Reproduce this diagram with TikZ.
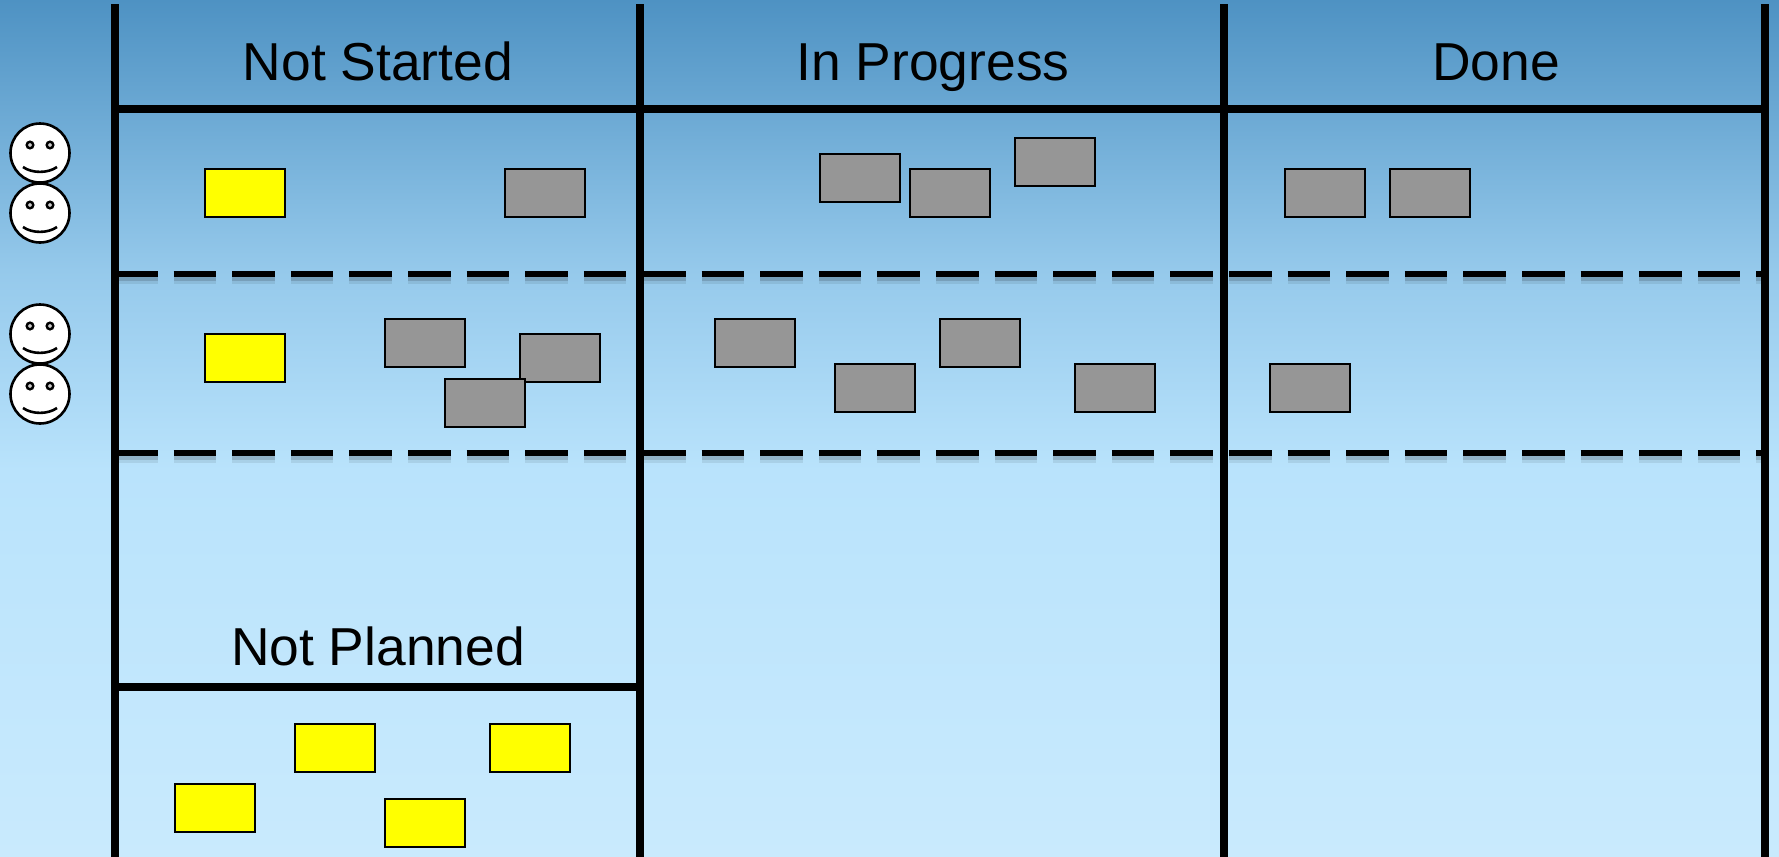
\documentclass[tikz,border=0pt]{standalone}
\usepackage{fontspec}
\setmainfont{Liberation Sans}
\usepackage{xcolor}
\usetikzlibrary{positioning}
\definecolor{skyA}{HTML}{4E92C3}
\definecolor{skyB}{HTML}{95C9EB}
\definecolor{skyC}{HTML}{B9E3FC}
\definecolor{skyD}{HTML}{C9EAFD}
\definecolor{cardgray}{HTML}{969696}
\definecolor{cardyellow}{RGB}{255,255,0}

\begin{document}
\begin{tikzpicture}
  [
    x=0.5pt,y=-0.5pt,
    board/.style={line width=4pt},
    swim/.style={line width=2.8pt,dash pattern=on 21.3pt off 8pt},
    swimblur/.style={swim,black,opacity=0.08,line width=5pt},
    swimshadow/.style={swim,black,opacity=0.14,line width=3pt},
    card/.style={rectangle,draw=black,line width=1.2pt,inner sep=0pt,minimum width=40pt,minimum height=24pt},
    todo/.style={card,fill=cardyellow},
    task/.style={card,fill=cardgray},
    head/.style={font=\fontsize{26.7}{30}\selectfont,inner sep=0pt,anchor=base},
    face/.style={circle,draw=black,fill=white,line width=1.3pt,inner sep=0pt,minimum size=29.5pt},
    pics/smile/.style={code={
      \draw [line width=1.2pt,fill=white!80!black] (-10,-8) circle (3.3);
      \draw [line width=1.2pt,fill=white!80!black] (10,-8) circle (3.3);
      \draw [line width=1.3pt] (-17,14) .. controls (-8,20.5) and (8,20.5) .. (17,14);
    }}
  ]
  \useasboundingbox (0,0) rectangle (1779,857);
  % background
  \shade [top color=skyA,bottom color=skyB] (0,0) rectangle (1779,270);
  \shade [top color=skyB,bottom color=skyC] (0,270) rectangle (1779,470);
  \shade [top color=skyC,bottom color=skyD] (0,470) rectangle (1779,857);

  % swim lanes
  \foreach \y in {274,453} {
    \foreach \from/\to in {115/636,643/1220,1229/1761} {
      \draw [swimblur] (\from,\y+5) -- (\to,\y+5);
      \draw [swimshadow] (\from,\y+4) -- (\to,\y+4);
      \draw [swim] (\from,\y) -- (\to,\y);
    }
  }

  % columns
  \draw [board] (115,4) -- (115,857);
  \draw [board] (640,4) -- (640,857);
  \draw [board] (1224,4) -- (1224,857);
  \draw [board] (1765,4) -- (1765,857);
  \draw [board] (115,109) -- (1765,109);
  \draw [board] (115,687) -- (640,687);

  \node[head] (not started) at (378,80) {Not Started};
  \node[head] (in progress) at (933,80) {In Progress};
  \node[head] (done) at (1496,80) {Done};
  \node[head] (not planned) at (378,665) {Not Planned};

  % people
  \node[face] (dev a) at (40,153) {};
  \node[face] (dev b) at (40,213) {};
  \node[face] (dev c) at (40,334) {};
  \node[face] (dev d) at (40,394) {};
  \foreach \dev in {dev a,dev b,dev c,dev d}
    \pic at (\dev) {smile};

  % first lane
  \node[todo] (story a) at (245,193) {};
  \node[task] (task a) at (545,193) {};
  \node[task] (task b) at (860,178) {};
  \node[task] (task c) at (950,193) {};
  \node[task] (task d) at (1055,162) {};
  \node[task] (task e) at (1325,193) {};
  \node[task] (task f) at (1430,193) {};

  % second lane
  \node[todo] (story b) at (245,358) {};
  \node[task] (task g) at (425,343) {};
  \node[task] (task h) at (560,358) {};
  \node[task] (task i) at (485,403) {};
  \node[task] (task j) at (755,343) {};
  \node[task] (task k) at (875,388) {};
  \node[task] (task l) at (980,343) {};
  \node[task] (task m) at (1115,388) {};
  \node[task] (task n) at (1310,388) {};

  % not planned
  \node[todo] (story c) at (335,748) {};
  \node[todo] (story d) at (530,748) {};
  \node[todo] (story e) at (215,808) {};
  \node[todo] (story f) at (425,823) {};
\end{tikzpicture}
\end{document}
